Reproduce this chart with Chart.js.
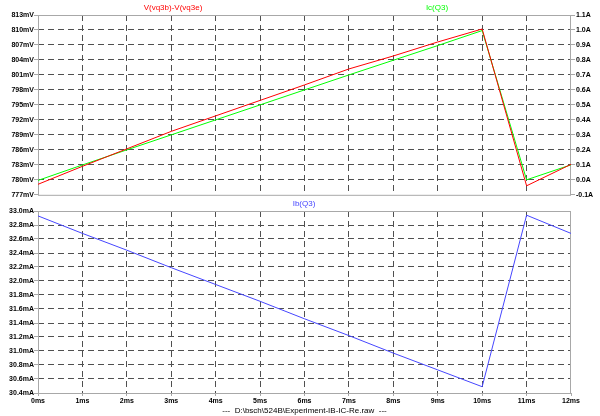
<!DOCTYPE html>
<html>
<head>
<meta charset="utf-8">
<script src="https://cdn.jsdelivr.net/npm/chart.js@4"></script>
<style>
    body { margin: 0; background: #ffffff; }
    #top { position: absolute; left: 0; top: 0; width: 600px; height: 200px; }
    #bottom { position: absolute; left: 0; top: 200px; width: 600px; height: 216px; }
</style>
</head>
<body>
<div id="top"><canvas id="topChart"></canvas></div>
<div id="bottom"><canvas id="bottomChart"></canvas></div>
<script>
// time axis (ms)
const timeMs = [0, 1, 2, 3, 4, 5, 6, 7, 8, 9, 10, 11, 12];
// V(vq3b)-V(vq3e) in mV
const vbe = [779.1, 782.7, 786.2, 789.7, 792.8, 795.9, 799.0, 802.2, 804.8, 807.6, 810.2, 778.8, 783.1];
// Ic(Q3) in A
const ic = [-0.004, 0.099, 0.2, 0.3, 0.4, 0.5, 0.6, 0.7, 0.798, 0.896, 0.996, 0.0, 0.1];
// Ib(Q3) in mA
const ib = [32.93, 32.68, 32.44, 32.19, 31.95, 31.71, 31.46, 31.22, 30.97, 30.73, 30.49, 32.94, 32.68];

// tick labels
const xTicks = [0, 1, 2, 3, 4, 5, 6, 7, 8, 9, 10, 11, 12];
const vTicks = [777, 780, 783, 786, 789, 792, 795, 798, 801, 804, 807, 810, 813];
const aTicks = [-0.1, 0.0, 0.1, 0.2, 0.3, 0.4, 0.5, 0.6, 0.7, 0.8, 0.9, 1.0, 1.1];
const ibTicks = [30.4, 30.6, 30.8, 31.0, 31.2, 31.4, 31.6, 31.8, 32.0, 32.2, 32.4, 32.6, 32.8, 33.0];

const fileName = "---  D:\\bsch\\524B\\Experiment-IB-IC-Re.raw  ---";

const gridCol = '#505050';
const boxCol = '#a8a8a8';
const tickFont = { family: 'Liberation Sans', size: 7, weight: 'bold' };

function pts(ys) {
    return timeMs.map((t, i) => ({ x: t, y: ys[i] }));
}

// hide the grid lines that sit on the pane border
function edgeColor(list) {
    return c => (c.tick && (c.tick.value === list[0] || c.tick.value === list[list.length - 1])) ? 'rgba(0,0,0,0)' : gridCol;
}

// pane box + trace names
const paneDeco = {
    id: 'paneDeco',
    beforeDatasetsDraw(chart) {
        const a = chart.chartArea;
        const c = chart.ctx;
        c.save();
        c.strokeStyle = boxCol;
        c.lineWidth = 1;
        c.strokeRect(a.left + 0.5, a.top + 0.5, a.right - a.left - 1, a.bottom - a.top);
        c.restore();
    },
    afterDraw(chart, args, opts) {
        const c = chart.ctx;
        c.save();
        c.font = '8px "Liberation Sans"';
        c.textAlign = 'center';
        c.textBaseline = 'middle';
        opts.names.forEach((n, i) => {
            const ds = chart.data.datasets[i];
            c.fillStyle = ds.borderColor;
            c.fillText(ds.label, n[0], n[1]);
        });
        c.restore();
    }
};

const xScale = (showLabels) => ({
    type: 'linear',
    min: 0,
    max: 12,
    afterBuildTicks: axis => { axis.ticks = xTicks.map(v => ({ value: v })); },
    afterFit: axis => { axis.height = showLabels ? 23 : 3; },
    grid: {
        color: edgeColor(xTicks),
        drawTicks: showLabels,
        tickLength: 3,
        tickColor: boxCol,
        tickBorderDash: []
    },
    border: { display: false, dash: [6, 4] },
    ticks: {
        display: showLabels,
        autoSkip: false,
        maxRotation: 0,
        padding: 1,
        color: '#000000',
        font: tickFont,
        callback: v => v + 'ms'
    },
    title: {
        display: showLabels,
        text: fileName,
        color: '#000000',
        font: { family: 'Liberation Sans', size: 8 },
        padding: { top: 0, bottom: 0 }
    }
});

const topCtx = document.getElementById('topChart');
new Chart(topCtx, {
    type: 'line',
    data: {
        datasets: [{
            label: 'V(vq3b)-V(vq3e)',
            data: pts(vbe),
            yAxisID: 'yV',
            borderColor: '#ff0000',
            borderWidth: 1,
            pointRadius: 0,
            tension: 0
        }, {
            label: 'Ic(Q3)',
            data: pts(ic),
            yAxisID: 'yA',
            borderColor: '#00ff00',
            borderWidth: 1,
            pointRadius: 0,
            tension: 0
        }]
    },
    plugins: [paneDeco],
    options: {
        animation: false,
        responsive: true,
        maintainAspectRatio: false,
        layout: { padding: { top: 15, left: 0, right: 0, bottom: 0 } },
        plugins: {
            legend: { display: false },
            tooltip: { enabled: false },
            paneDeco: { names: [[173, 8], [437, 8]] }
        },
        scales: {
            x: xScale(false),
            yV: {
                type: 'linear',
                position: 'left',
                min: 777,
                max: 813,
                afterBuildTicks: axis => { axis.ticks = vTicks.map(v => ({ value: v })); },
                afterFit: axis => { axis.width = 38; },
                grid: {
                    color: edgeColor(vTicks),
                    tickLength: 4,
                    tickColor: boxCol,
                    tickBorderDash: []
                },
                border: { display: false, dash: [6, 4] },
                ticks: {
                    padding: 0,
                    color: '#000000',
                    font: tickFont,
                    callback: v => v + 'mV'
                }
            },
            yA: {
                type: 'linear',
                position: 'right',
                min: -0.1,
                max: 1.1,
                afterBuildTicks: axis => { axis.ticks = aTicks.map(v => ({ value: v })); },
                afterFit: axis => { axis.width = 29; },
                grid: {
                    drawOnChartArea: false,
                    tickLength: 4,
                    tickColor: boxCol,
                    tickBorderDash: []
                },
                border: { display: false },
                ticks: {
                    padding: 1,
                    color: '#000000',
                    font: tickFont,
                    callback: v => v.toFixed(1) + 'A'
                }
            }
        }
    }
});

const bottomCtx = document.getElementById('bottomChart');
new Chart(bottomCtx, {
    type: 'line',
    data: {
        datasets: [{
            label: 'Ib(Q3)',
            data: pts(ib),
            yAxisID: 'yIb',
            borderColor: '#4646ff',
            borderWidth: 1,
            pointRadius: 0,
            tension: 0
        }]
    },
    plugins: [paneDeco],
    options: {
        animation: false,
        responsive: true,
        maintainAspectRatio: false,
        layout: { padding: { top: 11, left: 0, right: 29, bottom: 0 } },
        plugins: {
            legend: { display: false },
            tooltip: { enabled: false },
            paneDeco: { names: [[304, 4]] }
        },
        scales: {
            x: xScale(true),
            yIb: {
                type: 'linear',
                position: 'left',
                min: 30.4,
                max: 33.0,
                afterBuildTicks: axis => { axis.ticks = ibTicks.map(v => ({ value: v })); },
                afterFit: axis => { axis.width = 38; },
                grid: {
                    color: edgeColor(ibTicks),
                    tickLength: 4,
                    tickColor: boxCol,
                    tickBorderDash: []
                },
                border: { display: false, dash: [6, 4] },
                ticks: {
                    padding: 0,
                    color: '#000000',
                    font: tickFont,
                    callback: v => v.toFixed(1) + 'mA'
                }
            }
        }
    }
});
</script>
</body>
</html>
